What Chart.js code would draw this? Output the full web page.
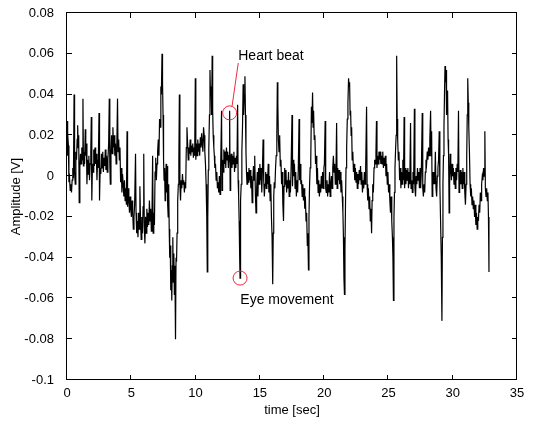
<!DOCTYPE html>
<html>
<head>
<meta charset="utf-8">
<script src="https://cdn.jsdelivr.net/npm/chart.js@4.4.1/dist/chart.umd.min.js"></script>
<style>
  html, body { margin: 0; padding: 0; background: #fff; }
  canvas { display: block; }
</style>
</head>
<body>
<canvas id="eogChart" width="539" height="421"></canvas>
<script>
// EOG trace (seconds / volts)
const timeSec = [
  0.00,0.03,0.07,0.11,0.15,0.20,0.25,0.30,0.35,0.40,0.45,0.50,0.55,0.59,0.64,0.69,0.74,0.79,0.83,0.87,0.91,0.95,
  1.00,1.05,1.10,1.15,1.20,1.24,1.28,1.32,1.37,1.42,1.46,1.51,1.55,1.60,1.65,1.70,1.75,1.80,1.85,1.89,1.93,1.98,
  2.03,2.08,2.13,2.18,2.23,2.28,2.33,2.38,2.43,2.49,2.53,2.58,2.63,2.68,2.73,2.78,2.83,2.88,2.93,2.98,
  3.03,3.08,3.13,3.18,3.24,3.29,3.33,3.37,3.42,3.47,3.52,3.57,3.62,3.67,3.72,3.77,3.82,3.87,3.93,3.97,
  4.02,4.07,4.12,4.17,4.22,4.27,4.32,4.37,4.42,4.47,4.52,4.57,4.62,4.67,4.71,4.76,4.81,4.86,4.91,4.96,
  5.01,5.06,5.11,5.16,5.21,5.26,5.33,5.37,5.42,5.47,5.52,5.57,5.62,5.67,5.72,5.77,5.82,5.87,5.92,5.97,
  6.01,6.06,6.11,6.16,6.21,6.26,6.31,6.36,6.41,6.46,6.51,6.56,6.61,6.66,6.70,6.75,6.80,6.85,6.90,6.95,
  7.00,7.05,7.10,7.15,7.20,7.25,7.30,7.34,7.39,7.43,7.47,7.51,7.55,7.59,7.63,7.67,7.71,7.75,7.79,7.83,
  7.87,7.91,7.95,7.99,8.03,8.07,8.11,8.15,8.19,8.23,8.27,8.31,8.35,8.39,8.44,8.48,8.52,8.56,8.61,8.66,
  8.70,8.74,8.78,8.83,8.88,8.93,8.98,9.03,9.08,9.13,9.18,9.23,9.28,9.33,9.38,9.43,9.48,9.53,9.58,9.63,
  9.68,9.73,9.78,9.83,9.88,9.93,9.98,10.02,10.07,10.12,10.17,10.22,10.27,10.32,10.37,10.42,10.47,10.52,10.57,10.62,
  10.67,10.72,10.77,10.82,10.87,10.91,10.95,10.99,11.03,11.08,11.12,11.16,11.20,11.25,11.29,11.33,11.37,11.42,11.46,11.50,
  11.55,11.60,11.65,11.70,11.75,11.80,11.85,11.90,11.95,12.02,12.06,12.10,12.15,12.20,12.25,12.30,12.35,12.40,12.45,12.50,
  12.55,12.60,12.65,12.69,12.73,12.78,12.83,12.88,12.93,12.98,13.03,13.08,13.13,13.18,13.22,13.27,13.31,13.35,13.39,13.43,
  13.46,13.50,13.55,13.60,13.65,13.70,13.74,13.79,13.84,13.88,13.92,13.96,14.00,14.05,14.10,14.15,14.20,14.25,14.30,14.35,
  14.40,14.45,14.50,14.55,14.60,14.65,14.70,14.75,14.80,14.85,14.90,14.95,15.00,15.05,15.10,15.15,15.20,15.25,15.30,15.35,
  15.40,15.45,15.50,15.55,15.60,15.65,15.70,15.75,15.80,15.85,15.90,15.95,16.00,16.04,16.08,16.12,16.17,16.22,16.27,16.32,
  16.36,16.40,16.44,16.49,16.54,16.59,16.64,16.69,16.74,16.79,16.84,16.88,16.93,16.98,17.03,17.08,17.13,17.18,17.23,17.28,
  17.33,17.38,17.43,17.50,17.54,17.59,17.64,17.69,17.74,17.79,17.84,17.89,17.94,17.99,18.05,18.09,18.14,18.19,18.24,18.29,
  18.34,18.39,18.44,18.49,18.54,18.59,18.64,18.69,18.73,18.78,18.82,18.86,18.91,18.96,19.01,19.05,19.10,19.14,19.18,19.23,
  19.28,19.33,19.38,19.43,19.48,19.53,19.58,19.63,19.68,19.73,19.78,19.83,19.88,19.93,19.98,20.02,20.08,20.12,20.17,20.22,
  20.27,20.32,20.37,20.42,20.47,20.52,20.57,20.62,20.67,20.72,20.77,20.82,20.87,20.92,20.97,21.01,21.06,21.11,21.16,21.21,
  21.26,21.31,21.36,21.41,21.46,21.50,21.54,21.58,21.62,21.66,21.70,21.75,21.80,21.85,21.90,21.94,21.98,22.02,22.06,22.10,
  22.14,22.18,22.23,22.28,22.33,22.38,22.43,22.48,22.53,22.58,22.63,22.68,22.73,22.78,22.83,22.88,22.93,22.98,23.03,23.08,
  23.13,23.18,23.23,23.30,23.34,23.39,23.44,23.49,23.54,23.59,23.64,23.69,23.73,23.78,23.83,23.88,23.93,23.98,24.03,24.07,
  24.11,24.16,24.21,24.26,24.31,24.36,24.41,24.46,24.51,24.56,24.61,24.66,24.71,24.76,24.81,24.86,24.91,24.96,25.01,25.06,
  25.11,25.16,25.21,25.26,25.31,25.35,25.39,25.43,25.47,25.51,25.55,25.60,25.64,25.68,25.72,25.77,25.82,25.87,25.92,25.97,
  26.02,26.07,26.12,26.17,26.22,26.26,26.31,26.36,26.41,26.46,26.51,26.56,26.61,26.66,26.72,26.76,26.81,26.86,26.91,26.96,
  27.02,27.06,27.11,27.16,27.21,27.26,27.31,27.36,27.41,27.46,27.51,27.56,27.63,27.67,27.72,27.77,27.82,27.87,27.92,27.97,
  28.02,28.07,28.12,28.17,28.22,28.28,28.32,28.36,28.40,28.45,28.50,28.55,28.60,28.65,28.70,28.75,28.80,28.85,28.90,28.95,
  29.00,29.05,29.11,29.16,29.20,29.24,29.28,29.32,29.36,29.40,29.44,29.48,29.52,29.56,29.60,29.64,29.68,29.72,29.76,29.80,
  29.85,29.90,29.95,30.00,30.05,30.10,30.15,30.20,30.25,30.30,30.35,30.40,30.45,30.49,30.54,30.59,30.64,30.69,30.74,30.79,
  30.84,30.89,30.94,30.99,31.04,31.09,31.13,31.17,31.21,31.25,31.30,31.35,31.40,31.45,31.50,31.55,31.60,31.65,31.70,31.75,
  31.80,31.85,31.90,31.95,32.00,32.05,32.10,32.15,32.20,32.25,32.30,32.35,32.40,32.45,32.50,32.54,32.59,32.64,32.69,32.74,32.78,32.82
];
const amplitudeV = [
  0.027,0.010,0.021,0.015,-0.003,-0.001,-0.007,-0.004,-0.008,-0.002,0.004,-0.001,0.040,0.002,-0.004,0.012,0.008,0.018,0.025,0.014,0.020,-0.013,
  0.004,0.011,0.006,0.014,0.008,0.038,0.005,0.012,0.006,0.023,0.010,0.016,-0.004,0.008,0.001,0.010,-0.002,0.006,0.012,0.029,-0.012,0.006,
  0.002,0.013,0.005,0.014,0.006,0.011,-0.002,0.008,0.004,0.031,-0.012,0.004,0.001,0.011,0.004,0.012,0.002,0.009,0.005,0.013,
  0.003,0.010,0.002,0.008,0.016,0.038,0.006,-0.004,0.012,0.020,0.011,0.024,0.014,0.020,0.010,0.016,0.006,0.013,0.038,0.012,
  0.018,0.008,0.014,-0.003,0.004,-0.008,0.001,-0.004,-0.010,-0.002,-0.012,-0.006,-0.014,0.022,-0.015,-0.006,-0.012,-0.018,-0.010,-0.016,
  -0.020,-0.012,-0.018,-0.026,-0.020,-0.014,0.011,-0.018,-0.028,-0.022,-0.030,-0.018,-0.026,-0.005,-0.022,-0.031,-0.020,-0.028,-0.015,0.011,
  -0.025,-0.033,-0.020,-0.028,-0.016,-0.025,-0.018,-0.024,-0.012,-0.022,-0.016,-0.027,-0.020,0.010,-0.028,-0.018,-0.024,0.002,0.009,-0.002,
  0.006,0.012,0.018,0.010,0.028,0.024,0.044,0.040,0.060,0.046,0.030,0.008,-0.002,0.004,-0.012,-0.004,0.006,-0.008,0.005,-0.014,
  -0.020,-0.004,-0.026,-0.040,-0.034,-0.056,-0.046,-0.061,-0.044,-0.030,-0.052,-0.038,-0.058,-0.044,-0.080,-0.040,-0.042,-0.028,-0.012,-0.004,
  0.008,0.040,-0.004,-0.012,-0.002,-0.006,0.001,-0.004,-0.002,-0.008,-0.003,-0.006,0.014,0.024,0.016,0.008,0.014,0.011,0.018,0.010,
  0.015,0.012,0.016,0.009,0.014,0.010,0.048,0.008,0.016,0.010,0.018,0.012,0.016,0.010,0.019,0.014,0.021,0.016,0.012,0.024,
  0.020,0.012,0.006,-0.004,-0.020,-0.047,-0.020,0.003,0.014,0.030,0.052,0.040,0.044,0.030,0.059,0.032,0.020,0.014,0.010,0.004,
  0.006,-0.002,0.002,-0.006,-0.003,-0.008,0.000,-0.009,0.004,0.032,-0.007,0.008,0.002,0.013,0.006,0.012,0.004,0.014,0.008,0.012,
  0.004,0.010,0.032,-0.007,0.006,0.011,0.004,0.010,0.006,0.012,0.002,0.009,0.004,0.010,0.006,0.035,-0.002,-0.010,-0.022,-0.040,
  -0.050,-0.012,-0.004,0.012,0.024,0.045,0.030,0.040,0.049,0.030,0.012,0.002,-0.004,0.002,-0.003,0.004,-0.002,0.003,-0.006,0.000,
  -0.013,-0.004,0.005,-0.002,0.010,-0.008,-0.018,-0.006,0.002,-0.010,0.004,-0.004,0.006,-0.002,0.004,-0.008,0.003,0.018,-0.002,-0.010,
  -0.004,0.002,-0.006,0.001,-0.004,0.006,-0.008,0.000,-0.012,-0.004,-0.020,-0.030,-0.053,-0.028,-0.010,-0.003,-0.006,0.004,0.010,0.020,
  0.046,0.036,0.018,0.012,0.020,0.005,0.008,-0.004,0.002,-0.014,-0.022,-0.005,0.004,-0.004,0.003,-0.008,-0.002,-0.006,0.002,-0.010,
  -0.002,-0.008,0.004,0.030,-0.005,0.008,0.000,0.006,-0.006,0.002,-0.010,-0.002,-0.008,0.004,0.028,-0.002,0.006,-0.004,-0.002,-0.010,
  -0.004,-0.012,-0.006,-0.016,-0.010,-0.022,-0.018,-0.034,-0.028,-0.046,-0.020,-0.006,0.004,0.008,0.034,0.026,0.041,0.024,0.032,0.018,
  0.020,0.006,0.010,-0.004,0.004,-0.008,-0.002,-0.010,-0.004,-0.008,0.000,-0.006,0.002,-0.006,0.004,0.006,0.027,-0.006,-0.008,-0.002,
  -0.010,-0.004,-0.008,0.002,-0.010,-0.004,0.000,-0.006,0.004,0.010,0.002,0.006,-0.004,0.002,0.026,-0.006,0.004,-0.002,0.003,-0.004,
  0.002,-0.008,-0.002,-0.010,-0.018,-0.030,-0.050,-0.058,-0.036,-0.014,0.004,0.014,0.028,0.036,0.048,0.044,0.046,0.030,0.032,0.020,
  0.024,0.008,0.012,0.002,0.006,-0.002,0.004,-0.003,0.002,-0.006,0.001,-0.004,0.003,-0.002,0.005,-0.004,0.002,-0.008,-0.002,-0.006,
  0.002,-0.004,0.004,0.034,-0.004,-0.012,-0.006,-0.016,-0.010,-0.022,-0.016,-0.028,-0.012,-0.004,-0.008,0.004,0.008,0.006,0.012,0.027,
  0.004,0.010,0.006,0.012,0.008,0.012,0.006,0.010,0.006,0.012,0.004,0.009,0.005,0.010,0.000,0.006,-0.004,0.002,-0.008,-0.004,
  -0.012,-0.018,-0.010,-0.022,-0.030,-0.040,-0.061,-0.020,-0.008,0.004,0.012,0.020,0.059,0.028,0.018,0.008,0.012,-0.002,0.004,-0.006,
  0.002,-0.004,0.008,-0.002,0.029,-0.006,0.004,-0.004,0.003,-0.002,0.004,-0.006,0.002,-0.004,0.026,-0.006,-0.002,-0.008,0.002,-0.004,
  0.033,-0.006,-0.010,0.000,-0.004,0.004,-0.002,0.002,-0.006,0.004,-0.006,0.002,0.031,-0.006,-0.010,-0.004,-0.008,0.002,0.008,0.006,
  0.012,0.008,0.014,0.010,0.018,0.032,0.010,0.022,-0.010,0.002,-0.004,0.002,-0.004,0.012,-0.006,-0.010,0.000,0.004,0.008,0.022,
  -0.004,-0.020,-0.040,-0.071,-0.030,-0.004,0.010,0.024,0.040,0.054,0.046,0.052,0.030,0.036,0.042,0.018,0.010,-0.018,-0.004,0.011,
  0.004,-0.002,0.006,0.000,0.004,-0.004,0.002,-0.006,0.004,-0.002,0.006,0.002,0.032,-0.008,-0.005,0.003,-0.004,0.002,-0.006,0.004,
  -0.004,0.002,-0.008,-0.014,-0.004,0.010,0.030,0.048,0.036,0.024,0.012,-0.004,-0.010,-0.006,-0.014,-0.010,-0.016,-0.012,-0.020,-0.014,
  -0.024,-0.018,-0.026,-0.020,-0.022,-0.014,-0.018,-0.008,-0.012,-0.004,0.000,-0.002,0.004,0.000,0.022,-0.006,-0.010,-0.006,-0.012,-0.008,-0.020,-0.047
];

const xTicks = [0, 5, 10, 15, 20, 25, 30, 35];
const yTicks = [-0.1, -0.08, -0.06, -0.04, -0.02, 0, 0.02, 0.04, 0.06, 0.08];

// red markers + their captions, in data units
const marks = [
  { label: 'Heart beat', t: 12.65, v: 0.031, textT: 13.32, textV: 0.0589, leader: true },
  { label: 'Eye movement', t: 13.46, v: -0.050, textT: 13.48, textV: -0.0608, leader: false }
];

const font = 'Liberation Sans, Arial, sans-serif';

// MATLAB style box with inward ticks, plus the red annotations
const boxPlugin = {
  id: 'box',
  afterDatasetsDraw(chart) {
    const { ctx, chartArea: a, scales: { x, y } } = chart;
    ctx.save();
    ctx.strokeStyle = '#000';
    ctx.lineWidth = 1;
    ctx.strokeRect(a.left - 0.5, a.top - 0.5, a.right - a.left, a.bottom - a.top);
    ctx.beginPath();
    xTicks.forEach(v => {
      const px = Math.round(x.getPixelForValue(v)) - 0.5;
      ctx.moveTo(px, a.bottom); ctx.lineTo(px, a.bottom - 5);
      ctx.moveTo(px, a.top); ctx.lineTo(px, a.top + 5);
    });
    yTicks.forEach(v => {
      const py = Math.round(y.getPixelForValue(v)) - 0.5;
      ctx.moveTo(a.left, py); ctx.lineTo(a.left + 5, py);
      ctx.moveTo(a.right, py); ctx.lineTo(a.right - 5, py);
    });
    ctx.stroke();

    marks.forEach(m => {
      const cx = x.getPixelForValue(m.t), cy = y.getPixelForValue(m.v);
      const tx = x.getPixelForValue(m.textT), ty = y.getPixelForValue(m.textV);
      ctx.strokeStyle = '#f0283c';
      ctx.beginPath();
      ctx.arc(cx, cy, 7, 0, Math.PI * 2);
      ctx.stroke();
      if (m.leader) {
        ctx.beginPath();
        ctx.moveTo(cx + 2.4, cy - 6.6);
        ctx.lineTo(tx, ty + 7);
        ctx.stroke();
      }
      ctx.fillStyle = '#000';
      ctx.font = '14px ' + font;
      ctx.textAlign = 'left';
      ctx.textBaseline = 'middle';
      ctx.fillText(m.label, tx, ty);
    });
    ctx.restore();
  }
};

new Chart(document.getElementById('eogChart'), {
  type: 'line',
  data: {
    datasets: [{
      data: timeSec.map((t, i) => ({ x: t, y: amplitudeV[i] })),
      borderColor: '#000',
      borderWidth: 1.2,
      pointRadius: 0,
      tension: 0,
      fill: false
    }]
  },
  options: {
    responsive: false,
    animation: false,
    devicePixelRatio: 1,
    layout: { padding: { top: 13, right: 22, left: 0, bottom: 0 } },
    plugins: { legend: { display: false }, tooltip: { enabled: false } },
    scales: {
      x: {
        type: 'linear', min: 0, max: 35,
        grid: { display: false }, border: { display: false },
        afterBuildTicks: s => { s.ticks = xTicks.map(v => ({ value: v })); },
        afterFit: s => { s.height = 41; },
        ticks: { color: '#000', font: { family: font, size: 13 }, padding: -2, maxRotation: 0, autoSkip: false },
        title: { display: true, text: 'time [sec]', color: '#000', font: { family: font, size: 13 }, padding: { top: 0, bottom: 3 } }
      },
      y: {
        type: 'linear', min: -0.1, max: 0.08,
        grid: { display: false }, border: { display: false },
        afterBuildTicks: s => { s.ticks = yTicks.map(v => ({ value: v })); },
        afterFit: s => { s.width = 67; },
        ticks: {
          color: '#000', font: { family: font, size: 13 }, padding: 5, autoSkip: false,
          callback: v => String(+v.toFixed(2))
        },
        title: { display: true, text: 'Amplitude [V]', color: '#000', font: { family: font, size: 13 }, padding: { top: 9, bottom: 0 } }
      }
    }
  },
  plugins: [boxPlugin]
});
</script>
</body>
</html>
